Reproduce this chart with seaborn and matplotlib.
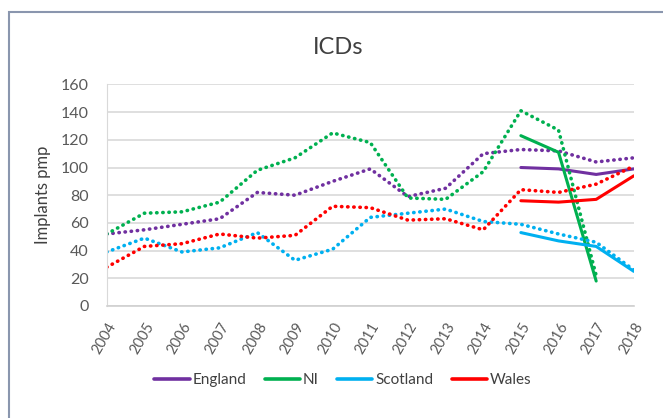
import numpy as np
import pandas as pd
import matplotlib
matplotlib.use("Agg")
import matplotlib.pyplot as plt
import seaborn as sns
from matplotlib.lines import Line2D
from matplotlib.patches import Rectangle

# 数据：各地区每年 ICD 植入率（每百万人口）
years = list(range(2004, 2019))
england_dot = [52, 55, 59, 63, 82, 80, 90, 99, 79, 85, 110, 113, 112, 104, 107]
ni_dot = [52, 67, 68, 75, 98, 107, 125, 118, 78, 77, 97, 141, 127, 22, np.nan]
scotland_dot = [39, 49, 39, 42, 53, 33, 41, 64, 67, 70, 61, 59, 52, 46, 26]
wales_dot = [28, 43, 45, 52, 49, 51, 72, 71, 62, 63, 55, 84, 82, 88, 101]

years_recent = [2015, 2016, 2017, 2018]
england_solid = [100, 99, 95, 99]
ni_solid = [123, 111, 18, np.nan]
scotland_solid = [53, 47, 43, 25]
wales_solid = [76, 75, 77, 94]

regions = ["England", "NI", "Scotland", "Wales"]
colors = ["#7030A0", "#00B050", "#00B0F0", "#FF0000"]

sns.set_style("white")
plt.rcParams["font.family"] = ["Lato", "DejaVu Sans"]

fig = plt.figure(figsize=(6.63, 4.18), dpi=100)
ax = fig.add_axes([0.161, 0.268, 0.795, 0.53])

dotted = [england_dot, ni_dot, scotland_dot, wales_dot]
solid = [england_solid, ni_solid, scotland_solid, wales_solid]
for name, c, d, s in zip(regions, colors, dotted, solid):
    sns.lineplot(x=years, y=d, ax=ax, color=c, linewidth=2.6,
                 linestyle=(0, (0.1, 1.6)), dash_capstyle="round")
    sns.lineplot(x=years_recent, y=s, ax=ax, color=c, linewidth=2.2)

ax.set_xlim(2004, 2018)
ax.set_ylim(0, 160)
ax.set_yticks(range(0, 161, 20))
ax.set_xticks(years)
ax.set_xticklabels([str(y) for y in years], rotation=60, ha="right",
                   rotation_mode="anchor", fontsize=10.5, color="#595959")
ax.tick_params(axis="y", labelsize=11.5, colors="#595959", length=0, pad=13)
ax.tick_params(axis="x", length=0, pad=10)
ax.grid(axis="y", color="#D9D9D9", linewidth=1.2)
ax.set_axisbelow(True)
for side in ["top", "right"]:
    ax.spines[side].set_visible(False)
ax.spines["left"].set_color("#D9D9D9")
ax.spines["bottom"].set_color("#D0D0D0")
ax.spines["bottom"].set_linewidth(1.2)
ax.set_ylabel("Implants pmp", fontsize=12, color="#404040")
ax.yaxis.set_label_coords(-0.106, 0.5)
ax.set_xlabel("")
fig.text(338 / 663, 1 - 48 / 418, "ICDs", fontsize=17, color="#404040",
         ha="center", va="center")

handles = [Line2D([0], [0], color=c, linewidth=2.6) for c in colors]
fig.legend(handles, regions, loc="center", bbox_to_anchor=(343 / 663, 1 - 380 / 418),
           ncol=4, frameon=False, fontsize=11, handlelength=2.3, handletextpad=0.2,
           columnspacing=1.2, labelcolor="#404040")

fig.patches.append(Rectangle((9 / 663, -0.05), 1.1, 1 - 12 / 418 + 0.05,
                             transform=fig.transFigure, fill=False,
                             edgecolor="#8A96AE", linewidth=1.5))

fig.savefig("out.png", dpi=100)
